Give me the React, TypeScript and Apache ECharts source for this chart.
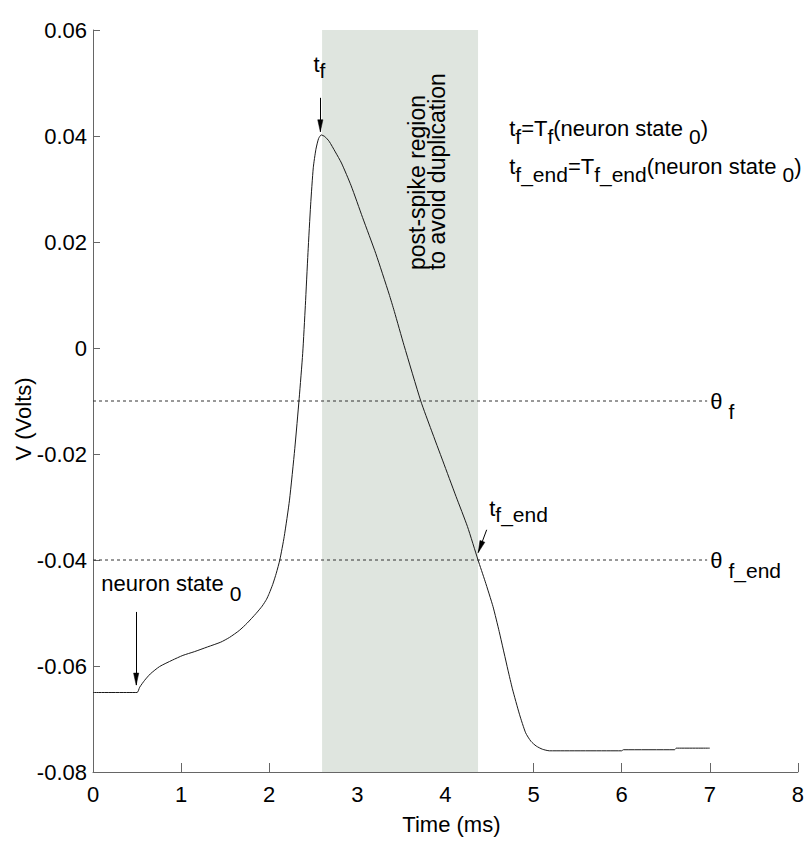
import React, { useEffect, useRef } from "react";
import * as echarts from "echarts";

// Membrane potential trace (time in ms, voltage in volts)
const timeMs = [
  0, 0.5, 0.53, 0.586, 0.65, 0.756, 0.9, 1.02, 1.15, 1.3, 1.45, 1.55, 1.66, 1.75, 1.85, 1.92, 1.97, 2.0, 2.04,
  2.08, 2.12, 2.17, 2.23, 2.29, 2.34, 2.38, 2.41, 2.44, 2.47, 2.5, 2.53, 2.56, 2.59, 2.63, 2.68, 2.75, 2.82,
  2.93, 3.06, 3.21, 3.36, 3.42, 3.53, 3.72, 3.84, 3.97, 4.12, 4.25, 4.37, 4.45, 4.54, 4.61, 4.71, 4.76, 4.84,
  4.91, 4.97, 5.03, 5.1, 5.18, 6.0, 6.02, 6.6, 6.62, 7.0,
];
const voltage = [
  -0.065, -0.065, -0.064, -0.0627, -0.0615, -0.0601, -0.0589, -0.058, -0.0573, -0.0564, -0.0555, -0.0546,
  -0.0533, -0.0519, -0.0501, -0.0487, -0.0474, -0.0463, -0.0446, -0.0425, -0.04, -0.0356, -0.0287, -0.019,
  -0.0095, -0.001, 0.008, 0.018, 0.027, 0.034, 0.0375, 0.0395, 0.0402, 0.0399, 0.039, 0.037, 0.0349, 0.0306,
  0.0246, 0.0178, 0.0102, 0.0069, 0.0005, -0.01, -0.0155, -0.0213, -0.028, -0.0337, -0.04, -0.044, -0.0488,
  -0.0535, -0.0608, -0.0643, -0.0691, -0.0726, -0.0742, -0.0751, -0.0757, -0.076, -0.076, -0.0758, -0.0758,
  -0.0755, -0.0755,
];

// Axis ticks
const xTicks = [0, 1, 2, 3, 4, 5, 6, 7, 8];
const yTicks = [-0.08, -0.06, -0.04, -0.02, 0, 0.02, 0.04, 0.06];

// Spike timing and thresholds
const T_F = 2.6;
const T_F_END = 4.37;
const THETA_F = -0.01;
const THETA_F_END = -0.04;
const THRESHOLD_END_MS = 6.97;
const NEURON_STATE_MS = 0.49;

// Annotation arrows: [fromTime, fromV, toTime, toV]
const arrows: number[][] = [
  [NEURON_STATE_MS, -0.0498, NEURON_STATE_MS, -0.0636],
  [2.58, 0.0472, 2.58, 0.0408],
  [4.468, -0.0343, 4.372, -0.0386],
];

const FONT = "'Liberation Sans', Arial, Helvetica, sans-serif";

// n: base text; s / e / t: subscripts lowered by 10, 8 and 6 px
const rich = {
  n: { fontSize: 22, lineHeight: 26, fontFamily: FONT, fill: "#000", color: "#000" },
  s: { fontSize: 21, height: 6, lineHeight: 6, verticalAlign: "bottom", fontFamily: FONT, fill: "#000", color: "#000" },
  e: { fontSize: 21, height: 10, lineHeight: 10, verticalAlign: "bottom", fontFamily: FONT, fill: "#000", color: "#000" },
  t: { fontSize: 21, height: 14, lineHeight: 14, verticalAlign: "bottom", fontFamily: FONT, fill: "#000", color: "#000" },
};

export default function App() {
  const ref = useRef<HTMLDivElement>(null);

  useEffect(() => {
    if (!ref.current) return;
    const chart = echarts.init(ref.current, null, { renderer: "svg" });
    const curve = timeMs.map((t, i) => [t, voltage[i]]);

    chart.setOption({
      animation: false,
      backgroundColor: "#fff",
      grid: { left: 93, right: 8, top: 30, bottom: 69 },
      xAxis: {
        type: "value",
        min: xTicks[0],
        max: xTicks[xTicks.length - 1],
        interval: 1,
        axisLine: { onZero: false, lineStyle: { color: "#666", width: 1 } },
        axisTick: { inside: true, length: 9, lineStyle: { color: "#666" } },
        axisLabel: { fontSize: 22, color: "#000", fontFamily: FONT, margin: 11 },
        splitLine: { show: false },
      },
      yAxis: {
        type: "value",
        min: yTicks[0],
        max: yTicks[yTicks.length - 1],
        interval: 0.02,
        axisLine: { show: true, onZero: false, lineStyle: { color: "#666", width: 1 } },
        axisTick: { show: true, inside: true, length: 7, lineStyle: { color: "#666" } },
        axisLabel: {
          fontSize: 22,
          color: "#000",
          fontFamily: FONT,
          margin: 6,
          formatter: (v: number) => String(parseFloat(v.toFixed(2))),
        },
        splitLine: { show: false },
      },
      series: [
        {
          type: "line",
          data: [],
          z: 1,
          markArea: {
            silent: true,
            itemStyle: { color: "#dfe5df" },
            data: [[{ xAxis: T_F }, { xAxis: T_F_END }]],
          },
          markLine: {
            silent: true,
            symbol: ["none", "none"],
            label: { show: false },
            lineStyle: { color: "#000", width: 1, type: "solid" },
            data: arrows.map((a) => [{ coord: [a[0], a[1]] }, { coord: [a[2], a[3]] }]),
          },
        },
        {
          type: "line",
          data: [
            [0, THETA_F],
            [THRESHOLD_END_MS, THETA_F],
          ],
          symbol: "none",
          z: 2,
          lineStyle: { color: "#333", width: 1, type: [3, 3] },
        },
        {
          type: "line",
          data: [
            [0, THETA_F_END],
            [THRESHOLD_END_MS, THETA_F_END],
          ],
          symbol: "none",
          z: 2,
          lineStyle: { color: "#333", width: 1, type: [3, 3] },
        },
        {
          type: "line",
          data: curve,
          symbol: "none",
          smooth: 0.2,
          z: 3,
          lineStyle: { color: "#1a1a1a", width: 1 },
        },
      ],
    });

    const px = (x: number, y: number) => chart.convertToPixel({ gridIndex: 0 }, [x, y]) as number[];

    const richText = (pos: number[], text: string) => ({
      type: "text",
      x: pos[0],
      y: pos[1],
      z: 100,
      silent: true,
      style: {
        text,
        rich,
        fill: "#000",
        fontFamily: FONT,
        fontSize: 22,
        align: "left",
        textAlign: "left",
        verticalAlign: "middle",
        textVerticalAlign: "middle",
      },
    });

    const plainText = (x: number, y: number, text: string, rotate: boolean, extra: any = {}) => ({
      type: "text",
      x,
      y,
      z: 100,
      rotation: rotate ? Math.PI / 2 : 0,
      silent: true,
      style: {
        text,
        fill: "#000",
        fontFamily: FONT,
        fontSize: 22,
        align: "center",
        textAlign: "center",
        verticalAlign: "middle",
        textVerticalAlign: "middle",
        ...extra,
      },
    });

    // Arrowheads drawn at the end of each annotation arrow
    const heads = arrows.map((a) => {
      const p0 = px(a[0], a[1]);
      const p1 = px(a[2], a[3]);
      const dx = p1[0] - p0[0];
      const dy = p1[1] - p0[1];
      const len = Math.hypot(dx, dy) || 1;
      const ux = dx / len;
      const uy = dy / len;
      const bx = p1[0] - ux * 12;
      const by = p1[1] - uy * 12;
      return {
        type: "polygon",
        z: 100,
        silent: true,
        shape: {
          points: [
            [p1[0], p1[1]],
            [bx - uy * 2.6, by + ux * 2.6],
            [bx + uy * 2.6, by - ux * 2.6],
          ],
        },
        style: { fill: "#000", stroke: "#000", lineWidth: 0.5 },
      };
    });

    const gridLeft = px(0, 0)[0];
    const gridBottom = px(0, yTicks[0])[1];
    const xMid = (px(xTicks[0], 0)[0] + px(xTicks[xTicks.length - 1], 0)[0]) / 2;

    chart.setOption({
      graphic: [
        ...heads,
        richText(px(2.502, 0.0535), "{n|t}{t|f}"),
        richText(px(0.095, -0.0445), "{n|neuron state }{s|0}"),
        richText(px(4.724, 0.0415), "{n|t}{e|f}{n|=T}{e|f}{n|(neuron state }{e|0}{n|)}"),
        richText(px(4.724, 0.0343), "{n|t}{e|f_end}{n|=T}{e|f_end}{n|(neuron state }{e|0}{n|)}"),
        richText([px(THRESHOLD_END_MS, THETA_F)[0] + 3, px(0, THETA_F)[1]], "{n|θ }{s|f}"),
        richText([px(THRESHOLD_END_MS, THETA_F_END)[0] + 3, px(0, THETA_F_END)[1]], "{n|θ }{s|f_end}"),
        richText(px(4.497, -0.0302), "{n|t}{t|f_end}"),
        plainText(px(3.795, 0)[0], px(0, 0.0147)[1], "post-spike region\nto avoid duplication", true, {
          fontSize: 23,
          lineHeight: 20,
          align: "left",
          textAlign: "left",
        }),
        plainText(gridLeft - 70, 419, "V (Volts)", true),
        plainText(xMid + 6, gridBottom + 52, "Time (ms)", false),
      ],
    });

    return () => chart.dispose();
  }, []);

  return (
    <div
      ref={ref}
      style={{ position: "fixed", left: 0, top: 0, width: 807, height: 841, background: "#fff" }}
    />
  );
}
